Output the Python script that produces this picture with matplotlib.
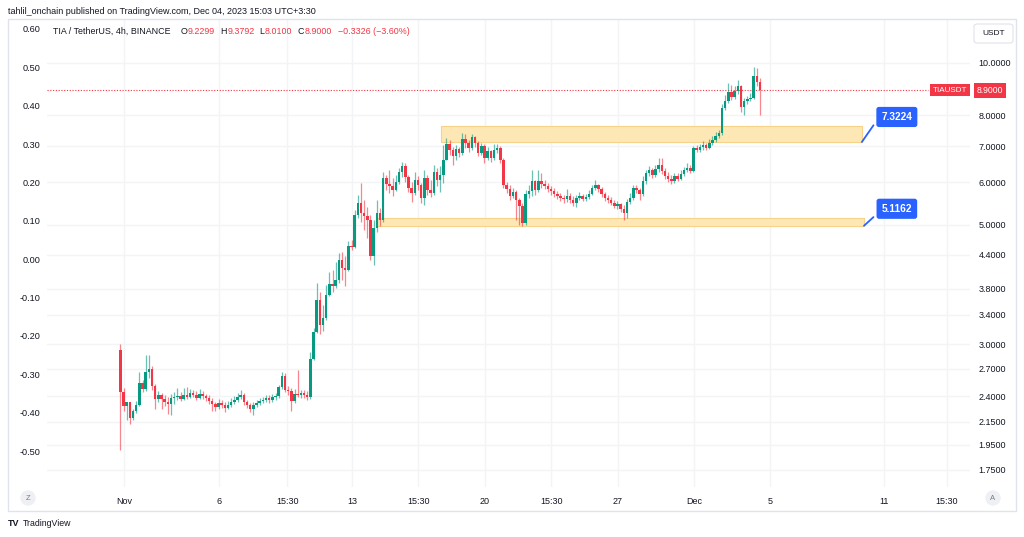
import matplotlib.pyplot as plt
import matplotlib.transforms as mtransforms
from matplotlib.patches import Rectangle, FancyBboxPatch
from matplotlib.ticker import FixedLocator, FixedFormatter, NullLocator

plt.rcParams['font.family'] = ['Liberation Sans', 'DejaVu Sans']

# TIA / TetherUS 4h candles, time axis in days from Nov 1 (UTC+3:30)
first_time = -0.19
first_open = 2.93
closes = [
    2.44, 2.30, 2.34, 2.19, 2.25, 2.31, 2.54, 2.48, 2.66, 2.70,
    2.51, 2.37, 2.41, 2.37, 2.34, 2.32, 2.38, 2.39, 2.40, 2.37,
    2.41, 2.39, 2.43, 2.41, 2.38, 2.42, 2.40, 2.38, 2.35, 2.32,
    2.29, 2.33, 2.31, 2.28, 2.31, 2.34, 2.36, 2.39, 2.41, 2.34,
    2.31, 2.27, 2.31, 2.33, 2.35, 2.36, 2.38, 2.36, 2.39, 2.40,
    2.50, 2.62, 2.47, 2.45, 2.35, 2.42, 2.41, 2.43, 2.41, 2.39,
    2.82, 3.16, 3.62, 3.26, 3.36, 3.70, 3.88, 3.85, 3.95, 4.30,
    4.16, 4.12, 4.57, 4.55, 5.22, 5.50, 5.26, 5.19, 5.11, 4.38,
    4.94, 5.26, 5.11, 6.11, 5.96, 5.91, 5.81, 6.01, 6.27, 6.43,
    6.14, 5.86, 5.73, 6.06, 5.93, 5.61, 6.11, 5.81, 5.73, 6.27,
    6.06, 6.19, 6.60, 7.07, 6.89, 6.71, 6.92, 6.80, 7.22, 7.10,
    6.95, 7.28, 7.10, 6.80, 7.01, 6.66, 6.86, 6.66, 6.89, 6.95,
    6.60, 5.93, 5.83, 5.66, 5.76, 5.57, 5.43, 5.03, 5.71, 5.78,
    6.03, 5.81, 6.03, 5.96, 5.91, 5.83, 5.78, 5.71, 5.66, 5.61,
    5.59, 5.66, 5.57, 5.50, 5.61, 5.66, 5.59, 5.64, 5.71, 5.86,
    5.93, 5.83, 5.71, 5.61, 5.57, 5.50, 5.43, 5.47, 5.36, 5.26,
    5.52, 5.61, 5.86, 5.81, 5.71, 6.03, 6.24, 6.32, 6.19, 6.35,
    6.46, 6.30, 6.16, 6.09, 6.03, 6.16, 6.09, 6.22, 6.32, 6.38,
    6.30, 6.95, 6.89, 6.98, 7.04, 6.95, 7.10, 7.19, 7.31, 7.41,
    8.24, 8.50, 8.83, 8.64, 8.87, 9.06, 8.28, 8.50, 8.57, 8.61,
    9.46, 9.2299, 8.90,
]
highs = [
    3.00, 2.49, 2.34, 2.34, 2.27, 2.35, 2.66, 2.57, 2.86, 2.86,
    2.73, 2.53, 2.45, 2.43, 2.41, 2.39, 2.42, 2.44, 2.49, 2.44,
    2.49, 2.50, 2.48, 2.46, 2.45, 2.48, 2.45, 2.42, 2.41, 2.38,
    2.34, 2.37, 2.36, 2.34, 2.35, 2.38, 2.40, 2.43, 2.46, 2.43,
    2.36, 2.33, 2.34, 2.36, 2.38, 2.39, 2.41, 2.41, 2.42, 2.43,
    2.52, 2.66, 2.65, 2.51, 2.49, 2.48, 2.68, 2.47, 2.47, 2.45,
    2.90, 3.21, 3.90, 3.75, 3.55, 3.87, 4.09, 4.12, 4.26, 4.43,
    4.45, 4.38, 4.67, 4.69, 5.33, 5.69, 5.98, 5.57, 5.40, 5.22,
    5.11, 5.57, 5.38, 6.27, 6.19, 6.32, 6.11, 6.19, 6.38, 6.54,
    6.52, 6.19, 6.01, 6.27, 6.16, 5.98, 6.32, 6.19, 6.06, 6.46,
    6.38, 6.43, 7.04, 7.25, 7.19, 6.98, 7.04, 6.98, 7.41, 7.38,
    7.19, 7.38, 7.31, 7.16, 7.10, 7.07, 6.98, 6.89, 7.07, 7.07,
    7.01, 6.66, 6.01, 5.93, 5.86, 5.81, 5.61, 5.50, 5.81, 5.93,
    6.32, 6.06, 6.32, 6.24, 6.06, 5.98, 5.91, 5.86, 5.78, 5.73,
    5.69, 5.83, 5.73, 5.66, 5.69, 5.76, 5.71, 5.71, 5.81, 5.93,
    6.06, 5.96, 5.88, 5.76, 5.69, 5.64, 5.57, 5.54, 5.50, 5.45,
    5.59, 5.73, 5.93, 5.93, 5.86, 6.16, 6.32, 6.43, 6.38, 6.46,
    6.66, 6.66, 6.38, 6.27, 6.19, 6.24, 6.24, 6.32, 6.41, 6.52,
    6.46, 7.01, 7.04, 7.07, 7.16, 7.10, 7.22, 7.31, 7.44, 7.51,
    8.39, 8.72, 9.18, 9.10, 9.06, 9.30, 9.10, 8.61, 8.68, 8.79,
    9.83, 9.79, 9.3792,
]
lows = [
    1.91, 2.25, 2.17, 2.13, 2.17, 2.23, 2.30, 2.44, 2.45, 2.60,
    2.47, 2.27, 2.34, 2.27, 2.30, 2.22, 2.21, 2.32, 2.36, 2.35,
    2.36, 2.37, 2.38, 2.39, 2.36, 2.37, 2.37, 2.35, 2.32, 2.25,
    2.25, 2.27, 2.28, 2.24, 2.27, 2.29, 2.32, 2.34, 2.37, 2.31,
    2.28, 2.24, 2.21, 2.29, 2.31, 2.33, 2.34, 2.33, 2.34, 2.36,
    2.38, 2.48, 2.44, 2.41, 2.25, 2.33, 2.39, 2.38, 2.38, 2.36,
    2.37, 2.80, 3.15, 3.13, 3.17, 3.33, 3.69, 3.75, 3.82, 3.90,
    3.95, 3.85, 4.10, 4.49, 4.53, 5.15, 5.07, 4.89, 4.73, 4.30,
    4.21, 4.85, 4.98, 5.07, 5.81, 5.73, 5.66, 5.78, 5.96, 6.14,
    6.01, 5.76, 5.52, 5.69, 5.81, 5.50, 5.45, 5.69, 5.64, 5.69,
    5.91, 5.76, 5.98, 6.60, 6.74, 6.46, 6.60, 6.69, 6.74, 6.95,
    6.83, 6.89, 6.98, 6.71, 6.74, 6.52, 6.60, 6.54, 6.60, 6.80,
    6.52, 5.86, 5.73, 5.57, 5.61, 5.11, 5.00, 4.98, 5.00, 5.61,
    5.66, 5.69, 5.76, 5.86, 5.83, 5.76, 5.69, 5.64, 5.59, 5.54,
    5.50, 5.52, 5.50, 5.43, 5.40, 5.57, 5.54, 5.54, 5.59, 5.69,
    5.81, 5.76, 5.64, 5.54, 5.50, 5.45, 5.38, 5.36, 5.29, 5.11,
    5.15, 5.47, 5.57, 5.73, 5.57, 5.66, 5.96, 6.16, 6.11, 6.14,
    6.27, 6.22, 6.09, 6.01, 5.96, 5.98, 6.03, 6.06, 6.16, 6.27,
    6.24, 6.27, 6.83, 6.83, 6.89, 6.89, 6.92, 7.04, 7.13, 7.25,
    7.34, 8.17, 8.43, 8.53, 8.57, 8.75, 8.10, 8.00, 8.39, 8.50,
    8.57, 9.06, 8.01,
]
last_price = 8.90

# support / resistance zones drawn on the chart
zone_starts = [16.68, 13.26]
zone_ends = [38.84, 38.95]
zone_lows = [7.13, 4.98]
zone_highs = [7.63, 5.15]
zone_labels = ["7.3224", "5.1162"]

price_ticks = [10.0, 8.0, 7.0, 6.0, 5.0, 4.4, 3.8, 3.4, 3.0, 2.7, 2.4, 2.15, 1.95, 1.75]
left_ticks = [0.60, 0.50, 0.40, 0.30, 0.20, 0.10, 0.00, -0.10, -0.20, -0.30, -0.40, -0.50]
time_ticks = [0, 5, 8.6, 12, 15.5, 19, 22.5, 26, 30, 34, 40, 43.3]
time_labels = ["Nov", "6", "15:30", "13", "15:30", "20", "15:30", "27", "Dec", "5", "11", "15:30"]

UP = '#089981'
DOWN = '#f23645'
TXT = '#131722'
GRID = '#f3f4f6'

W, H = 1024, 537
fig = plt.figure(figsize=(W / 100, H / 100), dpi=100)


def fx(x):
    return x / W


def fy(y):
    return 1 - y / H


left, right, top, bottom = 47, 970, 20, 487
ax = fig.add_axes([fx(left), fy(bottom), (right - left) / W, (bottom - top) / H])

opens = [first_open] + closes[:-1]
times = [first_time + i / 6 for i in range(len(closes))]
colors = [UP if c >= o else DOWN for o, c in zip(opens, closes)]

ax.vlines(times, lows, highs, colors=colors, lw=0.9, alpha=0.6, zorder=3)
ax.bar(times, [abs(c - o) for o, c in zip(opens, closes)],
       bottom=[min(o, c) for o, c in zip(opens, closes)],
       width=0.125, color=colors, zorder=4)

ax.set_yscale('log')
ax.set_ylim(1.627, 12.02)
ax.set_xlim(-4.05, 44.53)

ax.yaxis.tick_right()
ax.yaxis.set_major_locator(FixedLocator(price_ticks))
ax.yaxis.set_major_formatter(FixedFormatter([f"{p:.4f}" for p in price_ticks]))
ax.yaxis.set_minor_locator(NullLocator())
ax.xaxis.set_major_locator(FixedLocator(time_ticks))
ax.xaxis.set_major_formatter(FixedFormatter(time_labels))
ax.tick_params(axis='y', length=0, pad=6, labelsize=6.5, labelcolor=TXT)
ax.tick_params(axis='x', length=0, pad=7, labelsize=6.5, labelcolor=TXT)
ax.grid(True, color=GRID, lw=1, zorder=0)
ax.set_axisbelow(True)
for s in ax.spines.values():
    s.set_visible(False)

# left scale (empty overlay scale)
ax2 = fig.add_axes(ax.get_position(), frameon=False)
ax2.set_ylim(-0.5938, 0.6234)
ax2.set_xticks([])
ax2.yaxis.set_major_locator(FixedLocator(left_ticks))
ax2.yaxis.set_major_formatter(FixedFormatter([f"{v:.2f}" for v in left_ticks]))
ax2.tick_params(axis='y', length=0, pad=5, labelsize=6.6, labelcolor=TXT)
ax2.patch.set_visible(False)

# zones with their price labels
for s, e, lo, hi, lab in zip(zone_starts, zone_ends, zone_lows, zone_highs, zone_labels):
    ax.fill_between([s, e], lo, hi, facecolor='#fde8b5', edgecolor='#f7d38a', lw=0.8, zorder=1)
    ly = hi * 1.04
    ax.plot([e, 39.45], [lo, ly * 0.965], color='#2962ff', lw=1.3, zorder=5, solid_capstyle='round')
    ax.text(40.68, ly, lab, ha='center', va='center', color='white', fontsize=7.3, fontweight='bold',
            zorder=6, bbox=dict(boxstyle='round,pad=0.5,rounding_size=0.25', fc='#2962ff', ec='none'))

# last price line and labels
ax.axhline(last_price, xmax=(928 - left) / (right - left), color=DOWN, lw=0.8, ls=(0, (1, 1.5)), zorder=2)
trans = mtransforms.blended_transform_factory(ax.transAxes, ax.transData)
ax.text(0.978, last_price, "TIAUSDT", transform=trans, ha='center', va='center', color='white',
        fontsize=5.8, clip_on=False, zorder=7,
        bbox=dict(boxstyle='square,pad=0.35', fc=DOWN, ec='none'))
ax.text(1.0215, last_price, "8.9000", transform=trans, ha='center', va='center', color='white',
        fontsize=6.2, clip_on=False, zorder=7,
        bbox=dict(boxstyle='square,pad=0.35', fc=DOWN, ec='none'))

# chart frame
fig.add_artist(Rectangle((fx(8), fy(511)), (1016 - 8) / W, (511 - 19) / H, fill=False,
                         ec='#e0e3eb', lw=1, transform=fig.transFigure))

# header and legend
fig.text(fx(8), fy(12), "tahlil_onchain published on TradingView.com, Dec 04, 2023 15:03 UTC+3:30",
         fontsize=6.5, color=TXT, va='center')
prev = fig.text(fx(53), fy(31), "TIA / TetherUS, 4h, BINANCE", fontsize=6.4, color=TXT, va='center')
legend_parts = [(7, "O", TXT), (0.6, "9.2299", DOWN), (3.5, "H", TXT), (0.6, "9.3792", DOWN),
                (3.5, "L", TXT), (0.6, "8.0100", DOWN), (3.5, "C", TXT), (0.6, "8.9000", DOWN),
                (4, "\u22120.3326 (\u22123.60%)", DOWN)]
for gap, t, c in legend_parts:
    prev = ax.annotate(t, xy=(1, 0.5), xycoords=prev, xytext=(gap, 0), textcoords='offset points',
                       va='center', ha='left', fontsize=6.4, color=c, annotation_clip=False)

# USDT currency box
fig.add_artist(FancyBboxPatch((fx(974), fy(43)), 39 / W, 19 / H, boxstyle='round,pad=0,rounding_size=0.004',
                              fc='white', ec='#e0e3eb', lw=0.8, transform=fig.transFigure))
fig.text(fx(993.5), fy(33.5), "USDT", fontsize=6, color=TXT, ha='center', va='center')

# Z / A buttons on the time axis
for cx, t in [(28, "Z"), (993, "A")]:
    fig.text(fx(cx), fy(498), t, fontsize=5.5, color='#787b86', ha='center', va='center',
             bbox=dict(boxstyle='circle,pad=0.55', fc='#eef0f4', ec='none'))

# footer logo
fig.text(fx(8), fy(523), "TV", fontsize=6.5, fontweight='bold', color=TXT, va='center')
fig.text(fx(23), fy(523), "TradingView", fontsize=6.3, color=TXT, va='center')

fig.savefig('out.png', dpi=100, facecolor='white')
